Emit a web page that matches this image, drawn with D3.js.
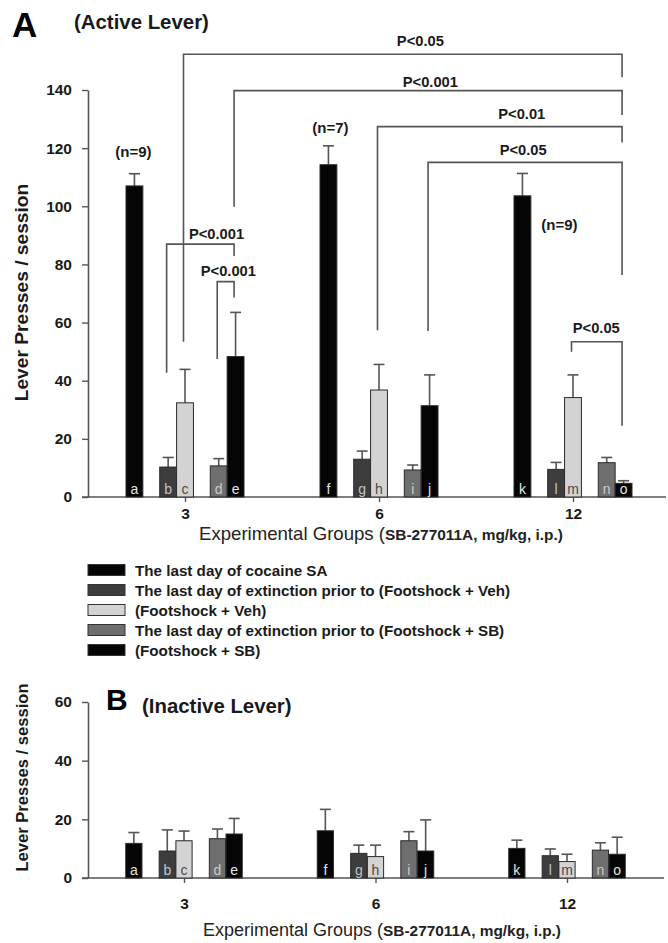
<!DOCTYPE html>
<html><head><meta charset="utf-8">
<script src="https://cdn.jsdelivr.net/npm/d3@7"></script>
<style>body{margin:0;background:#fff}svg{display:block}</style>
</head><body>
<script>
// ---------- data ----------
const groups = ["3", "6", "12"];
const seriesNames = [
  "The last day of cocaine SA",
  "The last day of extinction prior to (Footshock + Veh)",
  "(Footshock + Veh)",
  "The last day of extinction prior to (Footshock + SB)",
  "(Footshock + SB)"
];
const barLetters = [["a","b","c","d","e"],["f","g","h","i","j"],["k","l","m","n","o"]];
const activeMeans = [[107.0,10.3,32.4,10.7,48.3],[114.3,13.0,36.8,9.3,31.4],[103.6,9.5,34.2,11.8,4.7]];
const activeSEM   = [[4.2,3.3,11.5,2.5,15.2],[6.5,2.8,8.8,1.7,10.6],[7.7,2.4,7.8,1.8,0.9]];
const inactiveMeans = [[11.8,9.2,12.7,13.4,15.0],[16.1,8.4,7.3,12.7,9.2],[10.1,7.6,5.6,9.5,8.1]];
const inactiveSEM   = [[3.7,7.2,3.3,3.3,5.3],[7.3,2.8,3.9,3.1,10.6],[2.8,2.3,2.5,2.5,5.8]];
const activeTicks = [0,20,40,60,80,100,120,140];
const inactiveTicks = [0,20,40,60];
// significance brackets: [group,series] of left & right bars, top level, leg ends, label, label level
const activeBrackets = [
  {from:[0,2], to:[2,4], top:152.3, leftEnd:53.4, rightEnd:144.4, label:"P<0.05", labelAt:155.2, frac:0.54},
  {from:[0,4], to:[2,4], top:139.8, leftEnd:99.8, rightEnd:131.4, label:"P<0.001", labelAt:140.9, frac:0.506},
  {from:[1,2], to:[2,4], top:127.4, leftEnd:57.4, rightEnd:121.9, label:"P<0.01", labelAt:130.0, frac:0.59},
  {from:[1,4], to:[2,4], top:115.1, leftEnd:57.1, rightEnd:76.4, label:"P<0.05", labelAt:117.6, frac:0.49},
  {from:[0,1], to:[0,4], top:87.0, leftEnd:42.7, rightEnd:82.9, label:"P<0.001", labelAt:88.8, frac:0.74},
  {from:[0,3], to:[0,4], top:74.1, leftEnd:47.5, rightEnd:68.6, label:"P<0.001", labelAt:76.0, frac:0.66},
  {from:[2,2], to:[2,4], top:53.4, leftEnd:50.0, rightEnd:24.5, label:"P<0.05", labelAt:56.4, frac:0.49}
];
const nLabels = [
  {bar:[0,0], text:"(n=9)", at:117.0, dx:-1},
  {bar:[1,0], text:"(n=7)", at:125.2, dx:2},
  {bar:[2,0], text:"(n=9)", at:91.8, dx:37}
];

// ---------- styles ----------
const fills = ["#050505","#3d3d3d","#d3d3d3","#6e6e6e","#050505"];
const letterColors = ["#e4e4e4","#c4c4c4","#4a4a4a","#cccccc","#e4e4e4"];
const slotOf = [0,2,3,5,6];
const FONT = "'Liberation Sans', Arial, Helvetica, sans-serif";
const ink = "#1a1a1a", lineCol = "#555";

const W = 668, H = 943;
const svg = d3.select("body").append("svg").attr("width", W).attr("height", H)
  .style("font-family", FONT);
svg.append("rect").attr("width", W).attr("height", H).attr("fill", "#fff");

function drawPanel(o) {
  const g = svg.append("g");
  const y = d3.scaleLinear().domain(o.yDomain).range(o.yRange);
  const xg = d3.scalePoint().domain(groups).range(o.groupRange);
  const slot = d3.scaleBand().domain(d3.range(7)).range([-o.half, o.half]).padding(0);
  const bw = slot.bandwidth() * o.barFrac;
  const cx = (gi, si) => xg(groups[gi]) + slot(slotOf[si]) + slot.bandwidth() / 2;
  const y0 = y(0);

  // y axis
  const ya = g.append("g").attr("transform", `translate(${o.axisX},0)`)
    .call(d3.axisLeft(y).tickValues(o.ticks).tickSize(6).tickSizeOuter(0).tickPadding(10));
  ya.select(".domain").attr("stroke", lineCol).attr("stroke-width", 1.6);
  ya.selectAll(".tick line").attr("stroke", lineCol).attr("stroke-width", 1.4);
  ya.selectAll(".tick text").attr("font-family", FONT).attr("font-size", 15.5)
    .attr("font-weight", "bold").attr("fill", ink);

  // x axis
  g.append("line").attr("x1", o.axisX - 6).attr("x2", o.axisEnd).attr("y1", y0).attr("y2", y0)
    .attr("stroke", lineCol).attr("stroke-width", 1.6);
  const xa = g.append("g").attr("transform", `translate(0,${y0})`)
    .call(d3.axisBottom(xg).tickSize(5).tickSizeOuter(0).tickPadding(o.xPad));
  xa.select(".domain").remove();
  xa.selectAll(".tick line").attr("stroke", lineCol).attr("stroke-width", 1.4);
  xa.selectAll(".tick text").attr("font-family", FONT).attr("font-size", 15.5)
    .attr("font-weight", "bold").attr("fill", ink);

  // bars
  const flat = [];
  o.means.forEach((row, gi) => row.forEach((v, si) =>
    flat.push({gi, si, v, e: o.sems[gi][si], letter: barLetters[gi][si]})));
  const bars = g.append("g");
  // error bars
  bars.selectAll("line.err").data(flat).join("line").attr("class", "err")
    .attr("x1", d => cx(d.gi, d.si)).attr("x2", d => cx(d.gi, d.si))
    .attr("y1", d => y(d.v)).attr("y2", d => y(d.v + d.e))
    .attr("stroke", lineCol).attr("stroke-width", 1.6);
  bars.selectAll("line.cap").data(flat).join("line").attr("class", "cap")
    .attr("x1", d => cx(d.gi, d.si) - 5.5).attr("x2", d => cx(d.gi, d.si) + 5.5)
    .attr("y1", d => y(d.v + d.e)).attr("y2", d => y(d.v + d.e))
    .attr("stroke", lineCol).attr("stroke-width", 1.6);
  bars.selectAll("rect").data(flat).join("rect")
    .attr("x", d => cx(d.gi, d.si) - bw / 2).attr("width", bw)
    .attr("y", d => y(d.v)).attr("height", d => y0 - y(d.v))
    .attr("fill", d => fills[d.si]).attr("stroke", "#2a2a2a").attr("stroke-width", 1);
  bars.selectAll("text").data(flat).join("text")
    .attr("x", d => cx(d.gi, d.si)).attr("y", y0 - 3.5)
    .attr("text-anchor", "middle").attr("font-size", 14)
    .attr("fill", d => letterColors[d.si]).text(d => d.letter);

  // y label
  g.append("text").attr("transform", `translate(${o.yLabX},${o.yLabY}) rotate(-90)`)
    .attr("text-anchor", "middle").attr("font-size", o.yLabSize).attr("font-weight", "bold")
    .attr("fill", ink).text("Lever Presses / session");

  // x title
  const xt = g.append("text").attr("x", o.xTitleX).attr("y", o.xTitleY).attr("fill", "#222");
  xt.append("tspan").attr("font-size", o.xTitleSize).text("Experimental Groups (");
  xt.append("tspan").attr("font-size", 15.4).attr("font-weight", "bold").text("SB-277011A, mg/kg, i.p.)");

  // panel letter + title
  g.append("text").attr("x", o.letterX).attr("y", o.letterY).attr("font-size", o.letterSize)
    .attr("font-weight", "bold").attr("fill", "#000").text(o.letter);
  g.append("text").attr("x", o.titleX).attr("y", o.titleY).attr("font-size", 20.4)
    .attr("font-weight", "bold").attr("fill", ink).text(o.title);

  return {g, y, cx};
}

const A = drawPanel({
  yDomain: [0, 140], yRange: [497, 90], groupRange: [185, 573], half: 59, barFrac: 1,
  axisX: 88, axisEnd: 666, ticks: activeTicks, xPad: 6,
  means: activeMeans, sems: activeSEM,
  yLabX: 28, yLabY: 292.5, yLabSize: 19.2,
  xTitleX: 199, xTitleY: 540, xTitleSize: 18.6,
  letter: "A", letterX: 12, letterY: 37, letterSize: 35,
  title: "(Active Lever)", titleX: 74, titleY: 29
});

// brackets
const br = A.g.append("g");
activeBrackets.forEach(b => {
  const xl = A.cx(b.from[0], b.from[1]) - 1.5, xr = A.cx(b.to[0], b.to[1]) - 1.5;
  const path = d3.path();
  path.moveTo(xl, A.y(b.leftEnd)); path.lineTo(xl, A.y(b.top));
  path.lineTo(xr, A.y(b.top)); path.lineTo(xr, A.y(b.rightEnd));
  br.append("path").attr("d", path.toString()).attr("fill", "none")
    .attr("stroke", lineCol).attr("stroke-width", 1.6);
  br.append("text").attr("x", xl + (xr - xl) * b.frac).attr("y", A.y(b.labelAt))
    .attr("text-anchor", "middle").attr("font-size", 14.7).attr("font-weight", "bold")
    .attr("fill", ink).text(b.label);
});
nLabels.forEach(n => {
  A.g.append("text").attr("x", A.cx(n.bar[0], n.bar[1]) + n.dx).attr("y", A.y(n.at))
    .attr("text-anchor", "middle").attr("font-size", 15).attr("font-weight", "bold")
    .attr("fill", ink).text(n.text);
});

// legend
const lg = svg.append("g").attr("transform", "translate(88,570)");
const rows = lg.selectAll("g").data(seriesNames).join("g")
  .attr("transform", (d, i) => `translate(0,${i * 20})`);
rows.append("rect").attr("x", 0).attr("y", -5.5).attr("width", 37).attr("height", 11)
  .attr("fill", (d, i) => fills[i]).attr("stroke", "#333").attr("stroke-width", 1);
rows.append("text").attr("x", 47).attr("y", 5.5).attr("font-size", 15.2).attr("font-weight", "bold")
  .attr("fill", ink).text(d => d);

drawPanel({
  yDomain: [0, 60], yRange: [878, 702], groupRange: [184, 567], half: 58.5, barFrac: 0.97,
  axisX: 88, axisEnd: 664, ticks: inactiveTicks, xPad: 15,
  means: inactiveMeans, sems: inactiveSEM,
  yLabX: 28, yLabY: 777.5, yLabSize: 16.6,
  xTitleX: 203, xTitleY: 936, xTitleSize: 18,
  letter: "B", letterX: 106, letterY: 710, letterSize: 30,
  title: "(Inactive Lever)", titleX: 142, titleY: 712.5
});
</script>
</body></html>
